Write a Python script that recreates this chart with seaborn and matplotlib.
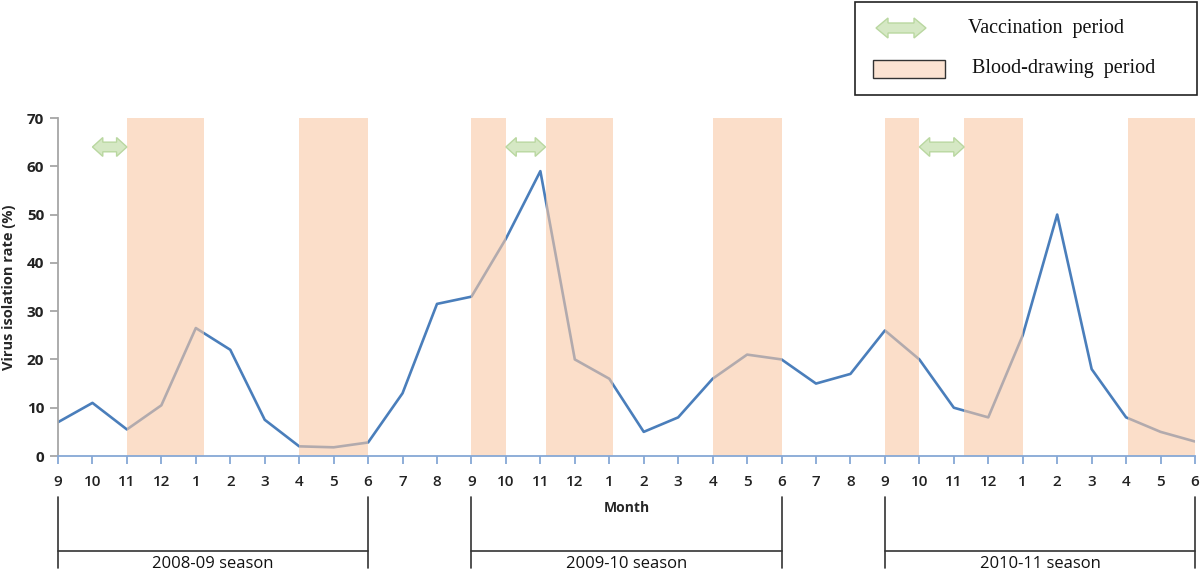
import matplotlib
matplotlib.use("Agg")
import matplotlib.pyplot as plt
import matplotlib.patches as mpatches
import numpy as np
import pandas as pd
import seaborn as sns

# ---- data ----
month_labels = ["9", "10", "11", "12", "1", "2", "3", "4", "5", "6",
                "7", "8", "9", "10", "11", "12", "1", "2", "3", "4", "5", "6",
                "7", "8", "9", "10", "11", "12", "1", "2", "3", "4", "5", "6"]
isolation_rate = [7, 11, 5.5, 10.5, 26.5, 22, 7.5, 2, 1.8, 2.8,
                  13, 31.5, 33, 45, 59, 20, 16, 5, 8, 16, 21, 20,
                  15, 17, 26, 20, 10, 8, 25, 50, 18, 8, 5, 3]
blood_start = [2.0, 7.0, 12.0, 14.15, 19.0, 24.0, 26.3, 31.05]
blood_end = [4.25, 9.0, 13.0, 16.1, 21.0, 25.0, 28.0, 33.0]
vacc_start = [1.0, 13.0, 25.0]
vacc_end = [2.0, 14.15, 26.3]
season_names = ["2008-09 season", "2009-10 season", "2010-11 season"]
season_start = [0, 12, 24]
season_end = [9, 21, 33]

df = pd.DataFrame({"idx": np.arange(len(isolation_rate)), "rate": isolation_rate})

sns.set_theme(style="white")
plt.rcParams["font.family"] = ["Open Sans", "DejaVu Sans"]

fig = plt.figure(figsize=(12, 5.74), dpi=100)
ax = fig.add_axes([58 / 1200, 1 - 456 / 574, (1195 - 58) / 1200, (456 - 118) / 574])

line_blue = "#4A7EBB"
sns.lineplot(data=df, x="idx", y="rate", ax=ax, color=line_blue, linewidth=1.9)

# blood-drawing shading drawn over the line
peach = "#F9C9A5"
for s, e in zip(blood_start, blood_end):
    ax.axvspan(s, e, ymin=0, ymax=1, color=peach, alpha=0.6, lw=0, zorder=3)

# vaccination double arrows
arrow_fc = "#D5E8C4"
arrow_ec = "#B9D7A0"


def double_arrow(x0, x1, yc, head_len, shaft_h, head_h, transform, **kw):
    pts = [(x0, yc), (x0 + head_len, yc + head_h), (x0 + head_len, yc + shaft_h),
           (x1 - head_len, yc + shaft_h), (x1 - head_len, yc + head_h), (x1, yc),
           (x1 - head_len, yc - head_h), (x1 - head_len, yc - shaft_h),
           (x0 + head_len, yc - shaft_h), (x0 + head_len, yc - head_h)]
    return mpatches.Polygon(pts, closed=True, transform=transform, **kw)


for s, e in zip(vacc_start, vacc_end):
    ax.add_patch(double_arrow(s, e, 64.0, 0.3, 1.0, 1.95, ax.transData,
                              facecolor=arrow_fc, edgecolor=arrow_ec, lw=1.0, zorder=4))

ax.set_xlim(0, 33)
ax.set_ylim(0, 70)
ax.set_xticks(range(len(month_labels)))
ax.set_xticklabels(month_labels)
ax.set_yticks(range(0, 71, 10))

for sp in ["top", "right"]:
    ax.spines[sp].set_visible(False)
ax.spines["left"].set_color("#A6A6A6")
ax.spines["left"].set_linewidth(1.3)
ax.spines["bottom"].set_color("#86A8D6")
ax.spines["bottom"].set_linewidth(1.3)
ax.spines["bottom"].set_zorder(5)

ax.tick_params(axis="x", direction="out", length=6, width=1.3, color="#86A8D6",
               labelsize=11, pad=8, bottom=True, labelcolor="#222222")
ax.tick_params(axis="y", direction="out", length=6, width=1.3, color="#A6A6A6",
               labelsize=11, pad=4, left=True, labelcolor="#222222")
for lab in ax.get_yticklabels():
    lab.set_fontweight("bold")
for lab in ax.get_xticklabels():
    lab.set_fontweight("semibold")

ax.set_xlabel("Month", fontsize=10, fontweight="bold", labelpad=8)
ax.set_ylabel("Virus isolation rate (%)", fontsize=10.5, fontweight="bold", labelpad=8)

# season brackets below axis
btrans = ax.get_xaxis_transform()
for name, s, e in zip(season_names, season_start, season_end):
    for xv in (s, e):
        ax.plot([xv, xv], [-0.121, -0.33], transform=btrans, color="#333333", lw=1.2,
                clip_on=False)
    ax.plot([s, e], [-0.281, -0.281], transform=btrans, color="#333333", lw=1.2,
            clip_on=False)
    ax.text((s + e) / 2, -0.342, name, transform=btrans, ha="center", va="bottom",
            fontsize=12, color="#111111", clip_on=False)

# legend box
box = mpatches.Rectangle((855 / 1200, 1 - 95 / 574), (1197 - 855) / 1200, 93 / 574,
                         transform=fig.transFigure, facecolor="white",
                         edgecolor="#222222", lw=1.2)
fig.patches.append(box)
fig.patches.append(double_arrow(876 / 1200, 926 / 1200, 1 - 28 / 574, 12 / 1200,
                                5 / 574, 10 / 574, fig.transFigure,
                                facecolor=arrow_fc, edgecolor=arrow_ec, lw=1.0))
fig.patches.append(mpatches.Rectangle((873 / 1200, 1 - 78 / 574), 72 / 1200, 18 / 574,
                                      transform=fig.transFigure, facecolor="#FCE3D2",
                                      edgecolor="#333333", lw=1.0))
fig.text(968 / 1200, 1 - 28 / 574, "Vaccination  period", family="Liberation Serif",
         fontsize=14.5, va="center", ha="left", color="#111111")
fig.text(972 / 1200, 1 - 69 / 574, "Blood-drawing  period", family="Liberation Serif",
         fontsize=14.5, va="center", ha="left", color="#111111")

fig.savefig("out.png", dpi=100)
